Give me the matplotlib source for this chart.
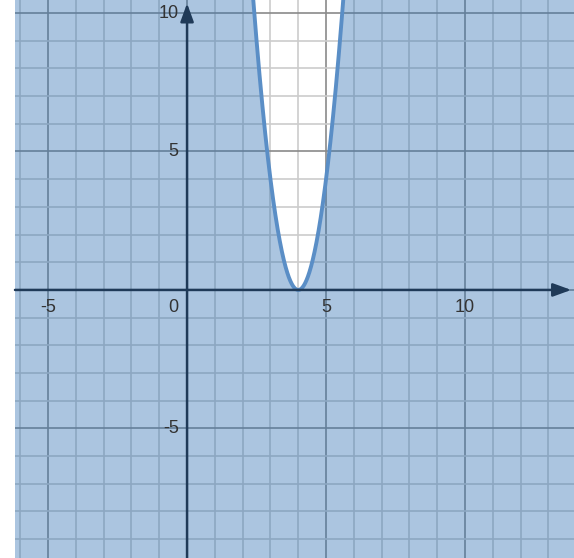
import numpy as np
import matplotlib.pyplot as plt

# y < a*(x-h)^2 + k, shaded outside the parabola
a = 4
h = 4
k = 0

x_ticks = [-5, 5, 10]
y_ticks = [-5, 5, 10]
xmin, xmax = -6.19, 13.92
ymin, ymax = -9.68, 10.47

fill_col = '#2d70b3'
curve_col = '#5a8ec6'
axis_col = '#1f3a58'
label_col = '#333333'

plt.rcParams['font.family'] = ['Liberation Sans', 'DejaVu Sans']

fig = plt.figure(figsize=(5.74, 5.58), dpi=100)
ax = fig.add_axes([15 / 574, 0, 559 / 574, 1])
ax.set_xlim(xmin, xmax)
ax.set_ylim(ymin, ymax)
ax.axis('off')

# grid (drawn under the translucent fill)
for gx in range(int(np.ceil(xmin)), int(np.floor(xmax)) + 1):
    major = gx % 5 == 0
    ax.axvline(gx, color='#8a8a8a' if major else '#cccccc', lw=1.2, zorder=1)
for gy in range(int(np.ceil(ymin)), int(np.floor(ymax)) + 1):
    major = gy % 5 == 0
    ax.axhline(gy, color='#8a8a8a' if major else '#cccccc', lw=1.2, zorder=1)

xs = np.linspace(xmin, xmax, 4000)
ys = a * (xs - h) ** 2 + k
ax.fill_between(xs, ymin, np.minimum(ys, ymax), color=fill_col, alpha=0.4, lw=0, zorder=2)
ax.plot(xs, ys, color=curve_col, lw=2.8, zorder=4)

# axes with arrows
ax.annotate('', xy=(xmax - 0.1, 0), xytext=(xmin, 0),
            arrowprops=dict(arrowstyle='-|>,head_length=1.1,head_width=0.4',
                            color=axis_col, lw=1.8, shrinkA=0, shrinkB=0), zorder=5)
ax.annotate('', xy=(0, ymax - 0.12), xytext=(0, ymin),
            arrowprops=dict(arrowstyle='-|>,head_length=1.1,head_width=0.4',
                            color=axis_col, lw=1.8, shrinkA=0, shrinkB=0), zorder=5)

for t in x_ticks:
    ax.text(t, -0.62, str(t), ha='center', va='center', fontsize=13, color=label_col, zorder=6)
ax.text(-0.3, -0.62, '0', ha='right', va='center', fontsize=13, color=label_col, zorder=6)
for t in y_ticks:
    ax.text(-0.3, t, str(t), ha='right', va='center', fontsize=13, color=label_col, zorder=6)

fig.savefig('out.png', dpi=100)
